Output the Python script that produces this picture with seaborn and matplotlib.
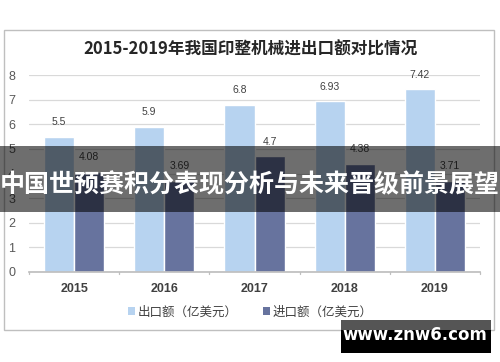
import matplotlib
matplotlib.use("Agg")
import matplotlib.pyplot as plt
from matplotlib.patches import Rectangle, Patch
import seaborn as sns
import pandas as pd

years = ["2015", "2016", "2017", "2018", "2019"]
export_vals = [5.5, 5.9, 6.8, 6.93, 7.42]
import_vals = [4.08, 3.69, 4.7, 4.38, 3.71]
series_names = ["出口额（亿美元）", "进口额（亿美元）"]
colors = ["#B7D3F0", "#67739E"]
title = "2015-2019年我国印整机械进出口额对比情况"
banner = "中国世预赛积分表现分析与未来晋级前景展望"
watermark = "www.znw6.com"

df = pd.DataFrame({
    "year": years * 2,
    "value": export_vals + import_vals,
    "series": [series_names[0]] * 5 + [series_names[1]] * 5,
})

sns.set_theme(style="white")
plt.rcParams["font.family"] = ["Noto Sans CJK SC", "DejaVu Sans"]

W, H = 500, 362
fig = plt.figure(figsize=(5, 3.62), dpi=100)

def fx(x): return x / W
def fy(y): return 1 - y / H

# chart border
fig.patches.append(Rectangle((fx(4), fy(330)), fx(490), (330 - 30) / H,
                             transform=fig.transFigure, fill=False,
                             edgecolor="#BFBFBF", linewidth=1.0, zorder=0))

ax = fig.add_axes([fx(29), fy(272), fx(480 - 29), (272 - 75) / H])
sns.barplot(data=df, x="year", y="value", hue="series", palette=colors,
            width=0.667, ax=ax, legend=False, saturation=1)

ax.set_ylim(0, 8)
ax.set_yticks(range(0, 9))
ax.yaxis.grid(True, color="#D9D9D9", linewidth=0.9)
ax.set_axisbelow(True)
for s in ["top", "right", "left"]:
    ax.spines[s].set_visible(False)
ax.spines["bottom"].set_color("#BFBFBF")
ax.set_xlabel("")
ax.set_ylabel("")
ax.tick_params(axis="y", length=0, labelsize=9, labelcolor="#595959", pad=10)
ax.tick_params(axis="x", length=0, labelsize=9, labelcolor="#404040", pad=8)
for t in ax.get_xticklabels():
    t.set_fontweight("bold")
    t.set_family(["Liberation Sans", "DejaVu Sans"])
for t in ax.get_yticklabels():
    t.set_family(["Liberation Sans", "DejaVu Sans"])
# category boundary ticks
for b in [i - 0.5 for i in range(len(years) + 1)]:
    ax.plot([b, b], [0, -0.1], color="#BFBFBF", lw=0.9, clip_on=False,
            transform=ax.transData)
ax.set_xlim(-0.5, len(years) - 0.5)

for cont in ax.containers:
    labels = [f"{v:g}" for v in cont.datavalues]
    ax.bar_label(cont, labels=labels, padding=7, fontsize=7.5, color="#404040",
                 family=["Liberation Sans", "DejaVu Sans"])

fig.text(0.5, fy(50), title, ha="center", va="center", fontsize=12,
         fontweight="bold", color="#262626")

handles = [Patch(facecolor=c, edgecolor="none") for c in colors]
fig.legend(handles, series_names, loc="center", bbox_to_anchor=(0.5, fy(312)),
           ncol=2, frameon=False, fontsize=9, handlelength=0.6, handleheight=0.6,
           handletextpad=0.2, columnspacing=2.0, labelcolor="#404040")

# banner overlay
fig.patches.append(Rectangle((0, fy(212)), 1, (212 - 146) / H,
                             transform=fig.transFigure, facecolor="black",
                             alpha=0.57, edgecolor="none", zorder=10))
fig.text(0.5, fy(185), banner, ha="center", va="center", fontsize=18,
         fontweight="bold", color="white", zorder=11)

# watermark
fig.patches.append(Rectangle((fx(341), fy(330)), fx(150), 10 / H,
                             transform=fig.transFigure, facecolor="#555555",
                             edgecolor="none", zorder=10))
fig.patches.append(Rectangle((fx(341), fy(353)), fx(150), 23 / H,
                             transform=fig.transFigure, facecolor="black",
                             edgecolor="none", zorder=10))
fig.text(fx(415), fy(335), watermark, ha="center", va="center", fontsize=12,
         fontweight="bold", color="white", zorder=11,
         family=["DejaVu Sans"])

fig.savefig("out.png", dpi=100)
